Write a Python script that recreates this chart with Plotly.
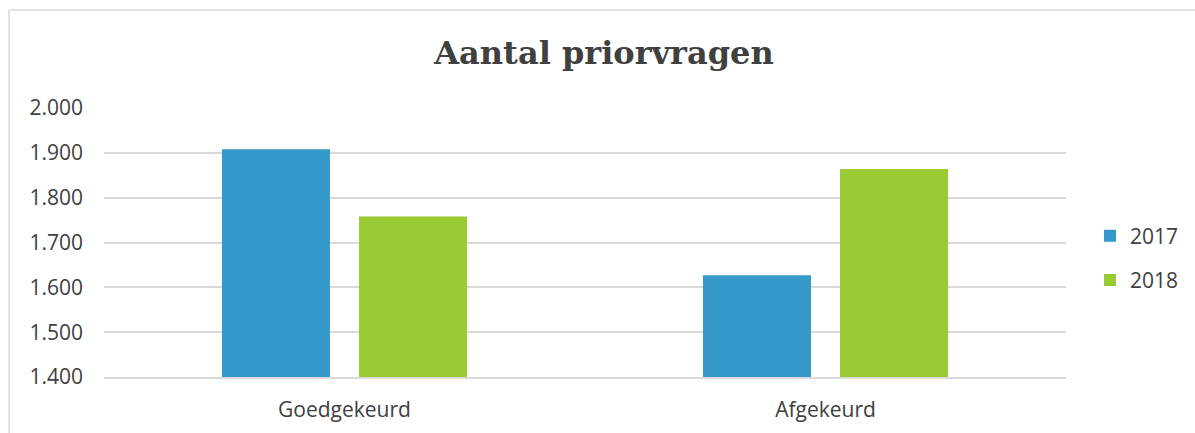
import plotly.graph_objects as go

categories = ["Goedgekeurd", "Afgekeurd"]
years = ["2017", "2018"]
values_2017 = [1908, 1627]
values_2018 = [1758, 1864]
colors = ["#3498CB", "#9ACB34"]

fig = go.Figure()
for i, (yr, vals) in enumerate(zip(years, [values_2017, values_2018])):
    fig.add_trace(go.Bar(
        x=categories, y=vals, name=yr, legendgroup=yr,
        marker=dict(color=colors[i], line=dict(width=0)),
    ))

W, H = 1195, 433
L, R, T = 104, 1195 - 1066, 108
B = H - 377
pw = W - L - R
ph = H - T - B

def px_x(x):
    return (x - L) / pw

def px_y(y):
    return (H - B - y) / ph

fig.update_layout(
    width=W, height=H,
    margin=dict(l=L, r=R, t=T, b=B, autoexpand=False),
    paper_bgcolor="white", plot_bgcolor="white",
    separators=",.",
    barmode="group", bargap=0.43, bargroupgap=0.212,
    title=dict(text="<b>Aantal priorvragen</b>", x=604 / W, xanchor="center",
               y=1 - 53 / H, yanchor="middle",
               font=dict(family="DejaVu Serif", size=32, color="#404040")),
    font=dict(family="Open Sans", size=21, color="#404040"),
    legend=dict(x=px_x(1090), y=px_y(258), xanchor="left", yanchor="middle",
                font=dict(size=21, color="#404040"), tracegroupgap=14,
                itemwidth=30, bgcolor="rgba(0,0,0,0)"),
    showlegend=True,
)
fig.update_yaxes(range=[1400, 2000], tickvals=[1400, 1500, 1600, 1700, 1800, 1900, 2000],
                 tickformat=",d", showgrid=True, gridcolor="#d9d9d9", gridwidth=1.5,
                 zeroline=False, showline=False, ticklabelstandoff=20,
                 tickfont=dict(size=21, color="#404040"))
fig.update_xaxes(showline=True, linecolor="#d9d9d9", linewidth=1.5,
                 ticklabelstandoff=13, tickfont=dict(size=21, color="#404040"))

line = dict(color="#d9d9d9", width=1.5)
fig.add_shape(type="line", xref="paper", yref="paper",
              x0=px_x(9), x1=px_x(1300), y0=px_y(10), y1=px_y(10), line=line)
fig.add_shape(type="line", xref="paper", yref="paper",
              x0=px_x(9), x1=px_x(9), y0=px_y(10), y1=px_y(500), line=line)

fig.write_html(
    "out.html",
    config={"displayModeBar": False},
    post_script="document.body.style.margin='0';document.body.style.overflow='hidden';",
)
